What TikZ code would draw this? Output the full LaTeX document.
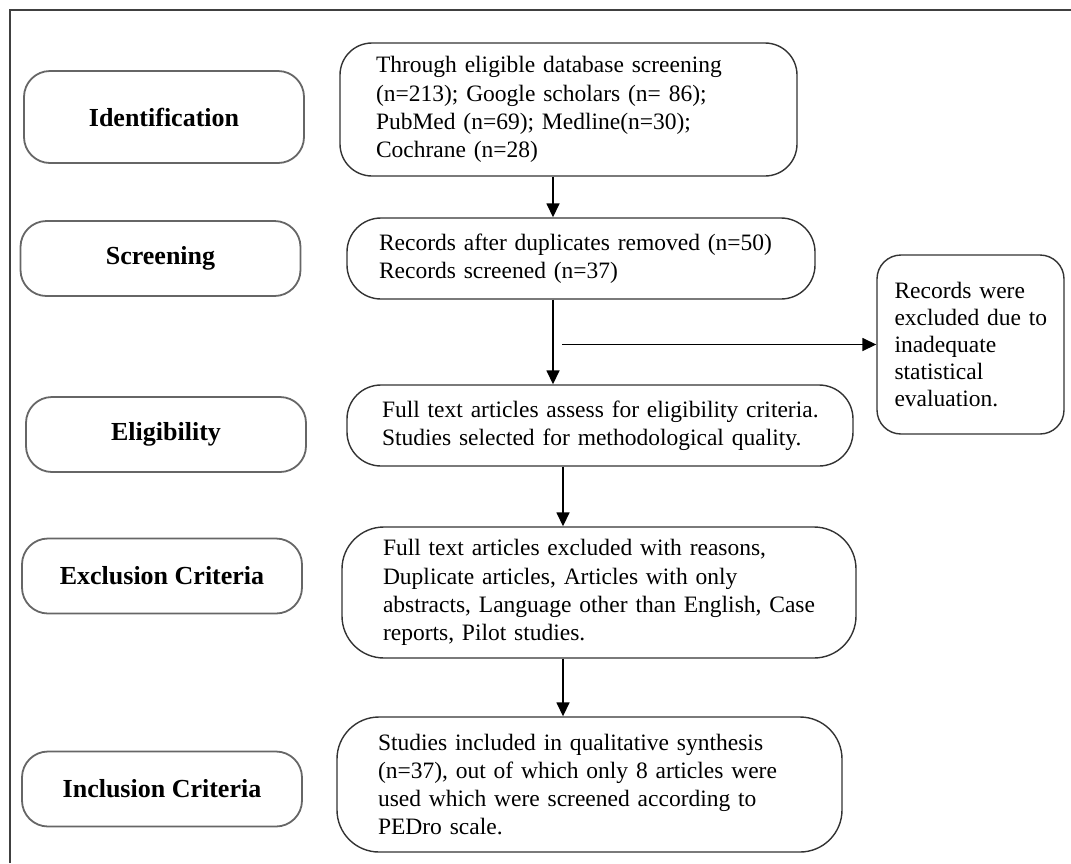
\documentclass[tikz,border=0pt]{standalone}
\usepackage{fontspec}
\setmainfont{Liberation Serif}
\usetikzlibrary{arrows.meta}

\begin{document}
\begin{tikzpicture}[
  x=1pt, y=-1pt,
  stage/.style={draw=black!60, line width=1.8pt, rounded corners=26pt, minimum width=280pt, minimum height=75pt, font=\fontsize{26}{30}\selectfont\bfseries},
  box/.style={draw=black!80, line width=1.4pt, rounded corners=34pt, align=left, inner ysep=4pt, font=\fontsize{23.5}{28.3}\selectfont},
  arr/.style={-{Triangle[length=14pt,width=13pt]}, line width=1.6pt}
]
  \useasboundingbox (0,0) rectangle (1071,863);
  \draw[line width=2.2pt, black!75] (10,863) -- (10,10) -- (1071,10);

  % stages on the left
  \node[stage, minimum height=92pt] (ident) at (164,117) {Identification};
  \node[stage] (screen) at (160.5,258.5) {Screening};
  \node[stage] (elig) at (166,434.5) {Eligibility};
  \node[stage] (excl) at (162,576) {Exclusion Criteria};
  \node[stage] (incl) at (162,789) {Inclusion Criteria};

  % flow boxes
  \node[box, text width=385pt, inner xsep=36pt, minimum height=133pt, rounded corners=32pt] (search) at (568.5,109.5)
    {\mbox{Through eligible database screening}\\\mbox{(n=213); Google scholars (n= 86);}\\\mbox{PubMed (n=69); Medline(n=30);}\\\mbox{Cochrane (n=28)}};
  \node[box, text width=404pt, inner xsep=32pt, minimum height=81pt] (dedup) at (581,258.5)
    {\mbox{Records after duplicates removed (n=50)}\\\mbox{Records screened (n=37)}};
  \node[box, text width=436pt, inner xsep=35pt, minimum height=81pt] (assess) at (600,425.5)
    {\mbox{Full text articles assess for eligibility criteria.}\\\mbox{Studies selected for methodological quality.}};
  \node[box, text width=432pt, inner xsep=41pt, minimum height=131pt, rounded corners=42pt] (reasons) at (599,592.5)
    {\mbox{Full text articles excluded with reasons,}\\\mbox{Duplicate articles, Articles with only}\\\mbox{abstracts, Language other than English, Case}\\\mbox{reports, Pilot studies.}};
  \node[box, text width=423pt, inner xsep=41pt, minimum height=135pt, rounded corners=42pt] (synth) at (589.5,784.5)
    {\mbox{Studies included in qualitative synthesis}\\\mbox{(n=37), out of which only 8 articles were}\\\mbox{used which were screened according to}\\\mbox{PEDro scale.}};
  \node[box, text width=152pt, inner xsep=17.5pt, minimum height=179pt, rounded corners=24pt, font=\fontsize{23.5}{27}\selectfont] (dropped) at (970.5,344.5)
    {\mbox{Records were}\\\mbox{excluded due to}\\\mbox{inadequate}\\\mbox{statistical}\\\mbox{evaluation.}};

  \coordinate (colA) at (553,0);
  \coordinate (colB) at (563,0);
  \coordinate (split) at (562,344.5);

  \draw[arr] (search.south -| colA) -- (dedup.north -| colA);
  \draw[arr] (dedup.south -| colA) -- (assess.north -| colA);
  \draw[arr] (assess.south -| colB) -- (reasons.north -| colB);
  \draw[arr] (reasons.south -| colB) -- (synth.north -| colB);
  \draw[arr] (split) -- (dropped.west);
\end{tikzpicture}
\end{document}
